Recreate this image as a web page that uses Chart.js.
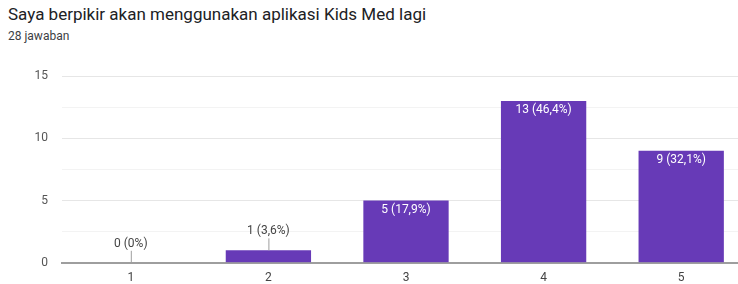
<!DOCTYPE html>
<html>
<head>
<meta charset="utf-8">
<script src="https://cdn.jsdelivr.net/npm/chart.js@4/dist/chart.umd.min.js"></script>
<style>
  html, body { margin: 0; padding: 0; background: #fff; overflow: hidden; width: 738px; height: 284px; }
  #title { position: absolute; left: 8px; top: 4px; font: 17px Roboto, sans-serif; color: #202124; white-space: nowrap; }
  #subtitle { position: absolute; left: 8px; top: 29px; font: 12px Roboto, sans-serif; color: #3c4043; }
  #wrap { position: absolute; left: 0; top: 55px; width: 750px; height: 229px; }
</style>
</head>
<body>
<div id="title">Saya berpikir akan menggunakan aplikasi Kids Med lagi</div>
<div id="subtitle">28 jawaban</div>
<div id="wrap"><canvas id="chart"></canvas></div>
<script>
const categories = ['1', '2', '3', '4', '5'];
const counts = [0, 1, 5, 13, 9];
const percents = ['0%', '3,6%', '17,9%', '46,4%', '32,1%'];
const yTicks = [0, 5, 10, 15];

// value labels: white inside tall bars, grey with a leader line above short ones
const barLabels = {
  id: 'barLabels',
  afterDatasetsDraw(chart) {
    const ctx = chart.ctx;
    const meta = chart.getDatasetMeta(0);
    ctx.save();
    ctx.font = '12px Roboto, sans-serif';
    ctx.textAlign = 'center';
    ctx.textBaseline = 'middle';
    meta.data.forEach((bar, i) => {
      const text = `${counts[i]} (${percents[i]})`;
      const h = bar.base - bar.y;
      if (h > 25) {
        ctx.fillStyle = '#ffffff';
        ctx.fillText(text, bar.x, bar.y + 9);
      } else {
        ctx.strokeStyle = '#9e9e9e';
        ctx.lineWidth = 1;
        ctx.beginPath();
        ctx.moveTo(bar.x + 0.5, bar.y - 12);
        ctx.lineTo(bar.x + 0.5, bar.y);
        ctx.stroke();
        ctx.fillStyle = '#444444';
        ctx.fillText(text, bar.x, bar.y - 19);
      }
    });
    ctx.restore();
  },
};

new Chart(document.getElementById('chart'), {
  type: 'bar',
  data: {
    labels: categories,
    datasets: [{
      data: counts,
      backgroundColor: '#673ab7',
      barPercentage: 0.62,
      categoryPercentage: 1,
    }],
  },
  plugins: [barLabels],
  options: {
    responsive: true,
    maintainAspectRatio: false,
    animation: false,
    layout: { padding: { top: 20, right: 0, left: 0, bottom: 0 } },
    plugins: { legend: { display: false }, tooltip: { enabled: false } },
    scales: {
      x: {
        grid: { display: false, drawTicks: false },
        border: { color: '#9e9e9e', width: 2 },
        ticks: { color: '#444', font: { family: 'Roboto', size: 12 }, padding: 8 },
        afterFit: s => { s.height = 21; },
      },
      y: {
        min: 0,
        max: 15,
        ticks: {
          stepSize: 2.5,
          color: '#555',
          font: { family: 'Roboto', size: 12 },
          padding: 14,
          callback: v => yTicks.includes(v) ? String(v) : '',
        },
        grid: {
          drawTicks: false,
          color: c => (c.tick && c.tick.value % 5 === 0) ? '#e6e6e6' : '#f3f3f3',
        },
        border: { display: false },
        afterFit: s => { s.width = 62; },
      },
    },
  },
});
</script>
</body>
</html>
